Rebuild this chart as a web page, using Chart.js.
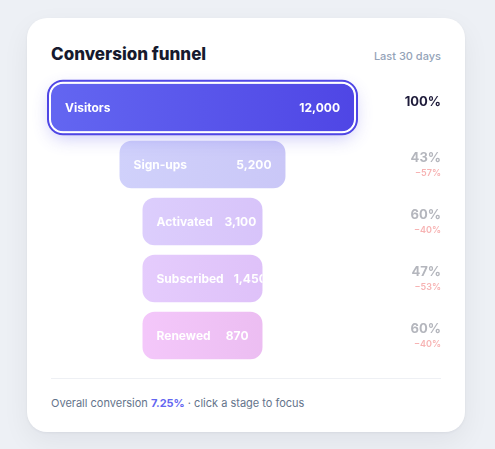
<!DOCTYPE html>
<html>
<head>
<meta charset="utf-8">
<script src="https://cdn.jsdelivr.net/npm/chart.js@4.4.1/dist/chart.umd.min.js"></script>
<style>
  html, body { margin: 0; padding: 0; }
  body { width: 495px; height: 449px; background: #edf0f5; font-family: Inter, "Noto Sans", sans-serif; position: relative; overflow: hidden; }
  .card { position: absolute; left: 27px; top: 18px; width: 438px; height: 414px; background: #fff; border-radius: 20px;
    box-shadow: 0 1px 3px rgba(15,23,42,0.05), 0 10px 28px rgba(15,23,42,0.06); }
  .title { position: absolute; left: 24px; top: 26px; font-size: 17px; line-height: 20px; font-weight: 800; color: #161a2e; }
  .range { position: absolute; right: 24px; top: 31px; font-size: 11px; line-height: 14px; font-weight: 500; color: #94a3b8; }
  canvas { position: absolute; left: 0; top: 52px; }
  .divider { position: absolute; left: 24px; right: 24px; top: 360px; height: 1px; background: #eef0f4; }
  .footer { position: absolute; left: 24px; top: 377px; font-size: 11px; line-height: 16px; color: #64748b; }
  .footer b { color: #6366f1; font-weight: 700; }
</style>
</head>
<body>
<div class="card">
  <div class="title">Conversion funnel</div>
  <div class="range">Last 30 days</div>
  <canvas id="funnel" width="438" height="302"></canvas>
  <div class="divider"></div>
  <div class="footer" id="footer"></div>
</div>
<script>
const stages = ['Visitors', 'Sign-ups', 'Activated', 'Subscribed', 'Renewed']
const counts = [12000, 5200, 3100, 1450, 870]
const colorStart = ['#6366f1', '#6366f1', '#8b5cf6', '#a855f7', '#d946ef']
const colorEnd = ['#4f46e5', '#4f46e5', '#7c3aed', '#9333ea', '#c026d3']
const focused = 0

const minShare = 0.396
const fmt = n => n.toLocaleString('en-US')

// step conversion vs previous stage
const stepPct = counts.map((v, i) => i === 0 ? 100 : Math.round(v / counts[i - 1] * 100))
const overall = (counts[counts.length - 1] / counts[0] * 100).toFixed(2)
document.getElementById('footer').innerHTML =
  'Overall conversion <b>' + overall + '%</b> · click a stage to focus'

const widthOf = v => Math.max(minShare, Math.pow(v / counts[0], 0.72))
const ranges = counts.map(v => [-widthOf(v) / 2, widthOf(v) / 2])

const hexA = (hex, a) => {
  const n = parseInt(hex.slice(1), 16)
  return 'rgba(' + (n >> 16) + ',' + ((n >> 8) & 255) + ',' + (n & 255) + ',' + a + ')'
}

const barColor = ctx => {
  const i = ctx.dataIndex
  const a = i === focused ? 1 : 0.3
  const chart = ctx.chart
  if (!chart.chartArea || !chart.scales.x) return hexA(colorStart[i], a)
  const xs = chart.scales.x
  const x0 = xs.getPixelForValue(ranges[i][0])
  const x1 = xs.getPixelForValue(ranges[i][1])
  const g = chart.ctx.createLinearGradient(x0, 0, x1, 0)
  g.addColorStop(0, hexA(colorStart[i], a))
  g.addColorStop(1, hexA(colorEnd[i], a))
  return g
}

const rr = (c, x, y, w, h, r) => { c.beginPath(); c.roundRect(x, y, w, h, r) }

const funnelPlugin = {
  id: 'funnel',
  beforeDatasetsDraw(chart) {
    const el = chart.getDatasetMeta(0).data[focused]
    const { x, base, y, height } = el.getProps(['x', 'base', 'y', 'height'], true)
    const c = chart.ctx
    c.save()
    c.shadowColor = 'rgba(79,70,229,0.32)'
    c.shadowBlur = 18
    c.shadowOffsetY = 6
    c.fillStyle = '#5b5cf0'
    rr(c, base, y - height / 2, x - base, height, 12)
    c.fill()
    c.restore()
  },
  afterDatasetsDraw(chart) {
    const c = chart.ctx
    const area = chart.chartArea
    const pctX = area.right + 87
    chart.getDatasetMeta(0).data.forEach((el, i) => {
      const { x, base, y, height } = el.getProps(['x', 'base', 'y', 'height'], true)
      const top = y - height / 2
      c.save()
      if (i === focused) {
        c.lineWidth = 2
        c.strokeStyle = '#ffffff'
        rr(c, base - 1, top - 1, x - base + 2, height + 2, 13)
        c.stroke()
        c.strokeStyle = '#4f46e5'
        rr(c, base - 3, top - 3, x - base + 6, height + 6, 15)
        c.stroke()
      }
      // label and value inside the bar
      rr(c, base, top, x - base, height, 12)
      c.clip()
      c.font = '700 12px Inter, "Noto Sans", sans-serif'
      c.fillStyle = '#ffffff'
      c.textBaseline = 'middle'
      c.textAlign = 'left'
      const lw = c.measureText(stages[i]).width
      const val = fmt(counts[i])
      const vw = c.measureText(val).width
      c.fillText(stages[i], base + 14, y + 0.5)
      const vx = Math.max(x - 14 - vw, base + 14 + Math.max(lw + 10, 68))
      c.fillText(val, vx, y + 0.5)
      c.restore()

      // step conversion column
      c.save()
      c.textAlign = 'right'
      c.textBaseline = 'middle'
      if (i === focused) {
        c.font = '700 13px Inter, "Noto Sans", sans-serif'
        c.fillStyle = '#1e1b3a'
        c.fillText(stepPct[i] + '%', pctX, y - 5)
      } else {
        c.font = '700 13px Inter, "Noto Sans", sans-serif'
        c.fillStyle = '#b4b6bd'
        c.fillText(stepPct[i] + '%', pctX, y - 6)
        c.font = '600 9px Inter, "Noto Sans", sans-serif'
        c.fillStyle = '#f7b3b3'
        c.fillText('\u2212' + (100 - stepPct[i]) + '%', pctX, y + 9)
      }
      c.restore()
    })
  }
}

new Chart(document.getElementById('funnel'), {
  type: 'bar',
  data: {
    labels: stages,
    datasets: [{
      data: ranges,
      backgroundColor: barColor,
      borderRadius: 12,
      borderSkipped: false,
      barPercentage: 0.835,
      categoryPercentage: 1
    }]
  },
  options: {
    indexAxis: 'y',
    responsive: false,
    animation: false,
    layout: { padding: { left: 24, right: 111, top: 9, bottom: 8 } },
    scales: {
      x: { display: false, min: -0.5, max: 0.5 },
      y: { display: false }
    },
    plugins: { legend: { display: false }, tooltip: { enabled: false } }
  },
  plugins: [funnelPlugin]
})
</script>
</body>
</html>
